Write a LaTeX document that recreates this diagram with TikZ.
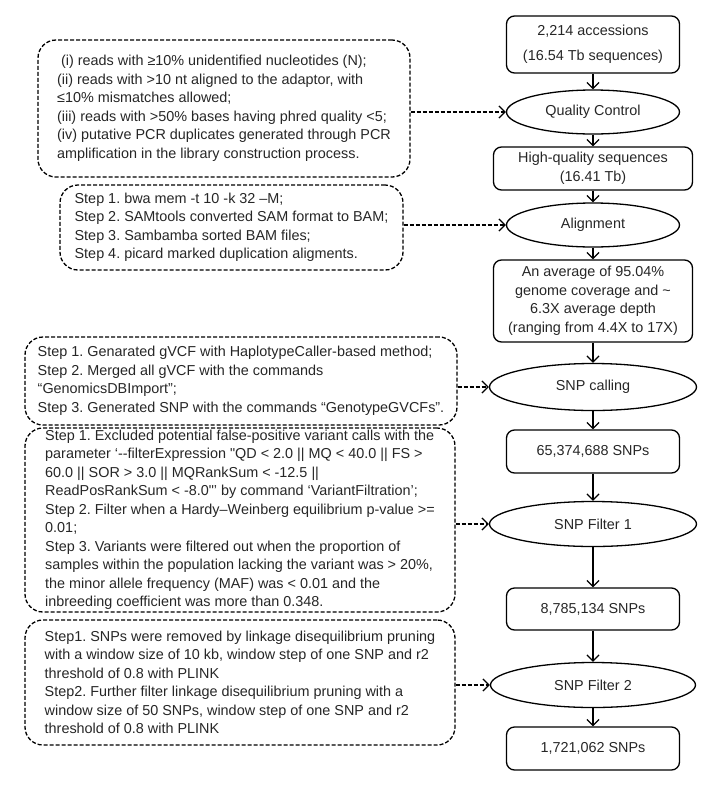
\documentclass[tikz,border=0pt]{standalone}
\usepackage{fontspec}
\setmainfont{Liberation Sans}
\usepackage{tikz}
\usetikzlibrary{shapes.geometric,arrows.meta}

\newcommand\flowfont{\fontsize{14.4}{18.5}\selectfont\frenchspacing}

\tikzset{
  databox/.style={draw, rounded corners=8pt, align=center, font=\flowfont, text=black!85,
    minimum width=173pt, minimum height=43pt, inner sep=2pt},
  procnode/.style={draw, ellipse, font=\flowfont, text=black!85,
    minimum width=173pt, minimum height=44pt, inner sep=0pt},
  notebox/.style={draw, dash pattern=on 4pt off 2pt, rounded corners=18pt, align=left,
    font=\flowfont, text=black!85, inner sep=0pt},
  notelink/.style={->, dash pattern=on 4pt off 2pt}
}

\begin{document}
\begin{tikzpicture}[x=1pt, y=-1pt, line width=1.3pt,
  >={Straight Barb[length=6pt,width=12pt]}]
\useasboundingbox (0,0) rectangle (720,788);

% pipeline
\node[databox, minimum height=57pt] (acc) at (593,44.5) {2,214 accessions\\[6pt](16.54 Tb sequences)};
\node[procnode] (qc) at (593,112) {Quality Control};
\node[databox, minimum width=199pt] (hq) at (593,168.5) {High-quality sequences\\(16.41 Tb)};
\node[procnode] (aln) at (593,225) {Alignment};
\node[databox, minimum width=199pt, minimum height=82pt] (cov) at (593,301) {An average of 95.04\%\\genome coverage and \textasciitilde\\6.3X average depth\\(ranging from 4.4X to 17X)};
\node[procnode, minimum width=207pt, minimum height=47pt] (call) at (593,387) {SNP calling};
\node[databox] (raw) at (593,451.5) {65,374,688 SNPs};
\node[procnode, minimum width=207pt, minimum height=45pt] (filt1) at (593,524) {SNP Filter 1};
\node[databox, minimum height=42pt] (mid) at (593,609) {8,785,134 SNPs};
\node[procnode, minimum width=205pt, minimum height=45pt] (filt2) at (593,685) {SNP Filter 2};
\node[databox] (final) at (593,748.5) {1,721,062 SNPs};

\foreach \a/\b in {acc/qc, qc/hq, hq/aln, aln/cov, cov/call, call/raw, raw/filt1, filt1/mid, mid/filt2, filt2/final}
  \draw[->] (\a) -- (\b);

% notes on the left
\node[notebox, minimum width=372pt, minimum height=137pt] (qcnote) at (224,108.5) {\hspace*{4pt}(i) reads with ≥10\% unidentified nucleotides (N);\\
(ii) reads with >10 nt aligned to the adaptor, with\\
≤10\% mismatches allowed;\\
(iii) reads with >50\% bases having phred quality <5;\\
(iv) putative PCR duplicates generated through PCR\\
amplification in the library construction process.};
\node[notebox, minimum width=343pt, minimum height=85pt] (alnnote) at (231.5,227.5) {Step 1. bwa mem -t 10 -k 32 –M;\\
Step 2. SAMtools converted SAM format to BAM;\\
Step 3. Sambamba sorted BAM files;\\
Step 4. picard marked duplication aligments.};
\node[notebox, minimum width=432pt, minimum height=88pt] (callnote) at (241,381) {Step 1. Genarated gVCF with HaplotypeCaller-based method;\\
Step 2. Merged all gVCF with the commands\\
“GenomicsDBImport”;\\
Step 3. Generated SNP with the commands “GenotypeGVCFs”.};
\node[notebox, minimum width=430pt, minimum height=184pt] (f1note) at (240,520) {Step 1. Excluded potential false-positive variant calls with the\\
parameter ‘-{}-filterExpression \textquotedbl QD < 2.0 || MQ < 40.0 || FS >\\
60.0 || SOR > 3.0 || MQRankSum < -12.5 ||\\
ReadPosRankSum < -8.0\textquotedbl’ by command ‘VariantFiltration’;\\
Step 2. Filter when a Hardy–Weinberg equilibrium p-value >=\\
0.01;\\
Step 3. Variants were filtered out when the proportion of\\
samples within the population lacking the variant was > 20\%,\\
the minor allele frequency (MAF) was < 0.01 and the\\
inbreeding coefficient was more than 0.348.};
\node[notebox, minimum width=430pt, minimum height=125pt] (f2note) at (240,682.5) {Step1. SNPs were removed by linkage disequilibrium pruning\\
with a window size of 10 kb, window step of one SNP and r2\\
threshold of 0.8 with PLINK\\
Step2. Further filter linkage disequilibrium pruning with a\\
window size of 50 SNPs, window step of one SNP and r2\\
threshold of 0.8 with PLINK};

\draw[notelink] (qcnote.east |- qc) -- (qc.west);
\draw[notelink] (alnnote.east |- aln) -- (aln.west);
\draw[notelink] (callnote.east |- call) -- (call.west);
\draw[notelink] (f1note.east |- filt1) -- (filt1.west);
\draw[notelink] (f2note.east |- filt2) -- (filt2.west);

\end{tikzpicture}
\end{document}
